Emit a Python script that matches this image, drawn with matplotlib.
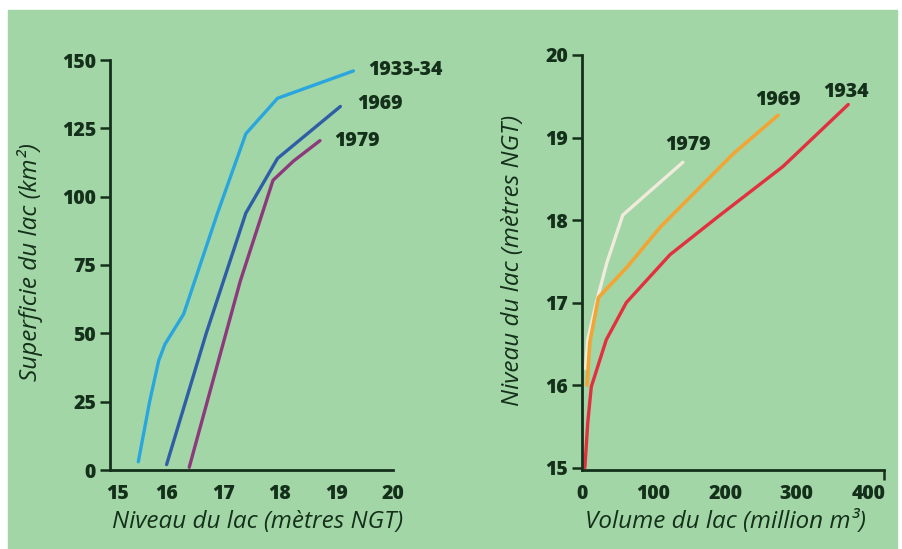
import matplotlib
matplotlib.use("Agg")
import matplotlib.pyplot as plt
from matplotlib.patches import Rectangle

# Left: lake area vs lake level
lvl_1933 = [15.5, 15.7, 15.86, 15.97, 16.3, 16.9, 17.4, 17.96, 19.3]
area_1933 = [3, 25, 40, 46, 57, 94, 123, 136, 146]
lvl_1969 = [16.0, 16.7, 17.4, 17.96, 19.07]
area_1969 = [2, 50, 94, 114, 133]
lvl_1979 = [16.4, 17.3, 17.88, 18.24, 18.71]
area_1979 = [1, 69, 106, 113, 120.5]

# Right: lake level vs volume
vol_1934 = [4, 8, 13, 34, 62, 123, 190, 281, 372]
niv_1934 = [15.0, 15.54, 15.98, 16.55, 17.0, 17.58, 18.04, 18.65, 19.4]
vol_1969 = [7, 11, 23, 63, 109, 211, 274]
niv_1969 = [16.0, 16.52, 17.06, 17.43, 17.91, 18.8, 19.27]
vol_1979 = [5, 8, 20, 35, 57, 95, 141]
niv_1979 = [16.2, 16.55, 17.0, 17.49, 18.06, 18.35, 18.7]

x1_ticks = [15, 16, 17, 18, 19, 20]
y1_ticks = [0, 25, 50, 75, 100, 125, 150]
x2_ticks = [0, 100, 200, 300, 400]
y2_ticks = [15, 16, 17, 18, 19, 20]

BG = "#a2d6a6"
INK = "#15301a"
FONT = "Open Sans"
LAB = dict(fontsize=17.5, style="italic", color=INK, family=FONT)
TAG = dict(fontsize=14, fontweight="heavy", color=INK, family=FONT, va="center")

fig = plt.figure(figsize=(9.02, 5.49), dpi=100, facecolor="white")
fig.patches.append(Rectangle((8 / 902, 0), 889 / 902, 539 / 549,
                             transform=fig.transFigure, color=BG, zorder=-10))

ax1 = fig.add_axes([110 / 902, 79 / 549, 283 / 902, 410 / 549])
ax2 = fig.add_axes([582 / 902, 79 / 549, 302 / 902, 415 / 549])

for ax in (ax1, ax2):
    ax.set_facecolor("none")
    for s in ("top", "right"):
        ax.spines[s].set_visible(False)
    for s in ("left", "bottom"):
        ax.spines[s].set_color(INK)
        ax.spines[s].set_linewidth(2)
    ax.tick_params(which="both", colors=INK, width=1.8)
    ax.tick_params(axis="x", which="major", length=0, pad=10)
    ax.tick_params(axis="x", which="minor", length=7)
    ax.tick_params(axis="y", length=7, pad=3)

# left chart
ax1.plot(lvl_1933, area_1933, color="#2aa6df", lw=2.4, solid_capstyle="round")
ax1.plot(lvl_1969, area_1969, color="#2f5ea6", lw=2.4, solid_capstyle="round")
ax1.plot(lvl_1979, area_1979, color="#8c3a7c", lw=2.4, solid_capstyle="round")
ax1.set_xlim(15, 20)
ax1.set_ylim(0, 150)
ax1.set_xticks([15.13] + x1_ticks[1:])
ax1.set_xticklabels([str(v) for v in x1_ticks])
ax1.set_xticks(x1_ticks[1:], minor=True)
ax1.set_yticks(y1_ticks)
ax1.text(19.56, 146.4, "1933-34", **TAG)
ax1.text(19.36, 134, "1969", **TAG)
ax1.text(18.97, 120.4, "1979", **TAG)
ax1.set_xlabel("Niveau du lac (mètres NGT)", **LAB)
ax1.set_ylabel("Superficie du lac (km²)", **LAB)
ax1.xaxis.set_label_coords(0.521, -0.098)
ax1.yaxis.set_label_coords(-0.237, 0.507)

# right chart
ax2.plot(vol_1979, niv_1979, color="#f1ebdc", lw=2.4, solid_capstyle="round")
ax2.plot(vol_1969, niv_1969, color="#f2a534", lw=2.6, solid_capstyle="round")
ax2.plot(vol_1934, niv_1934, color="#e2303e", lw=2.4, solid_capstyle="round")
ax2.set_xlim(0, 422)
ax2.set_ylim(14.97, 20)
ax2.set_xticks(x2_ticks)
ax2.set_xticks([100, 200, 300, 422], minor=True)
ax2.set_yticks(y2_ticks)
ax2.text(369, 19.55, "1934", ha="center", **TAG)
ax2.text(274, 19.45, "1969", ha="center", **TAG)
ax2.text(148, 18.91, "1979", ha="center", **TAG)
ax2.set_xlabel("Volume du lac (million m³)", **LAB)
ax2.set_ylabel("Niveau du lac (mètres NGT)", **LAB)
ax2.xaxis.set_label_coords(0.474, -0.096)
ax2.yaxis.set_label_coords(-0.189, 0.506)

for ax in (ax1, ax2):
    for lab in ax.get_xticklabels() + ax.get_yticklabels():
        lab.set_fontfamily(FONT)
        lab.set_fontweight("heavy")
        lab.set_fontsize(14)

fig.savefig("out.png", dpi=100, facecolor=fig.get_facecolor())
